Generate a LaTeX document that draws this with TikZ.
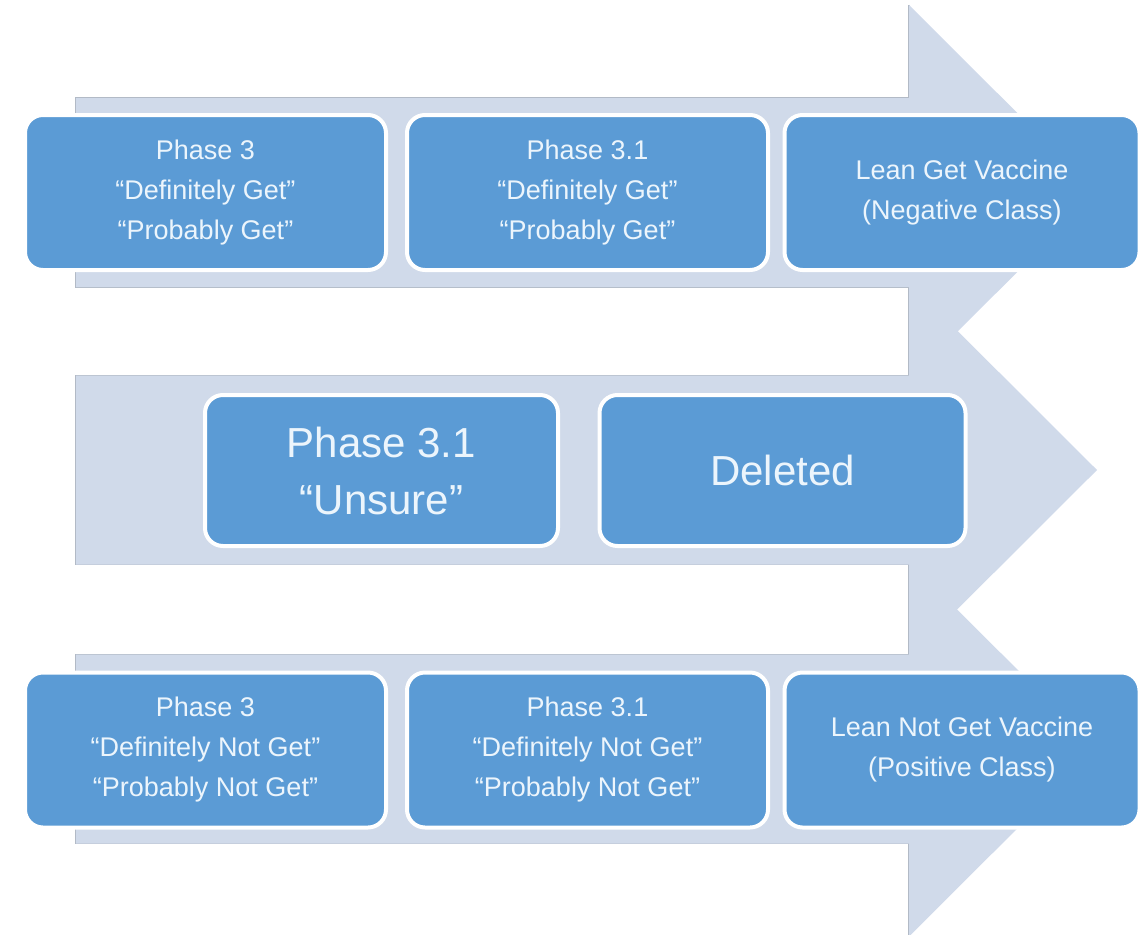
\documentclass[tikz,border=0pt]{standalone}
\usepackage{xcolor}
\usepackage{tikz}
\usepackage{fontspec}
\setmainfont{Liberation Sans}

\definecolor{arrowfill}{RGB}{208,218,234}
\definecolor{arrowedge}{RGB}{178,186,198}
\definecolor{boxfill}{RGB}{91,155,213}
\definecolor{boxtext}{RGB}{236,245,252}

\begin{document}
\begin{tikzpicture}[x=1pt,y=-1pt,
    phasebox/.style={draw=white,line width=4pt,fill=boxfill,rounded corners=18pt,
      text=boxtext,align=center,minimum height=155pt,inner sep=0pt,
      font=\fontsize{27}{40}\selectfont},
    bigbox/.style={phasebox,minimum height=151pt,font=\fontsize{42}{57}\selectfont}]

  \useasboundingbox (0,0) rectangle (1142,934);

  % the three arrows (straight edges first, then fill to hide the overlaps)
  \foreach \cy in {192.5,470,749}
    \draw[arrowedge,line width=1.5pt] (909,\cy-187.5) -- (909,\cy-94.5) -- (76,\cy-94.5)
      -- (76,\cy+94.5) -- (909,\cy+94.5) -- (909,\cy+187.5);
  \foreach \cy in {192.5,470,749}
    \fill[arrowfill] (76,\cy-94.5) -- (909,\cy-94.5) -- (909,\cy-187.5)
      -- (1097,\cy) -- (909,\cy+187.5) -- (909,\cy+94.5) -- (76,\cy+94.5) -- cycle;

  % top row
  \node[phasebox,minimum width=361pt] (getA) at (205.5,192.5) {Phase 3\\“Definitely Get”\\“Probably Get”};
  \node[phasebox,minimum width=361pt] (getB) at (587.5,192.5) {Phase 3.1\\“Definitely Get”\\“Probably Get”};
  \node[phasebox,minimum width=355pt] (getC) at (962,192.5) {Lean Get Vaccine\\(Negative Class)};

  % middle row
  \node[bigbox,minimum width=353pt] (unsure) at (381.5,470.5) {Phase 3.1\\“Unsure”};
  \node[bigbox,minimum width=366pt] (deleted) at (782.5,470.5) {Deleted};

  % bottom row
  \node[phasebox,minimum width=361pt] (notA) at (205.5,750) {Phase 3\\“Definitely Not Get”\\“Probably Not Get”};
  \node[phasebox,minimum width=361pt] (notB) at (587.5,750) {Phase 3.1\\“Definitely Not Get”\\“Probably Not Get”};
  \node[phasebox,minimum width=355pt] (notC) at (962,750) {Lean Not Get Vaccine\\(Positive Class)};

\end{tikzpicture}
\end{document}
